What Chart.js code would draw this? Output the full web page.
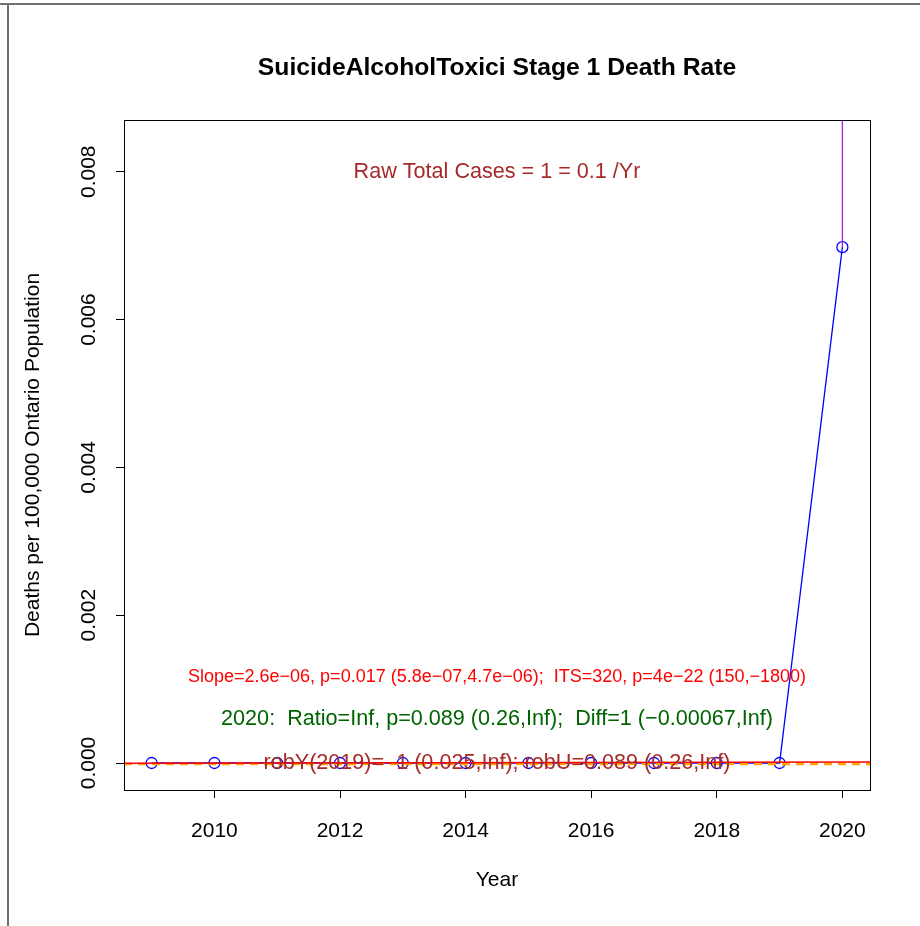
<!DOCTYPE html>
<html>
<head>
<meta charset="utf-8">
<script src="https://cdn.jsdelivr.net/npm/chart.js@4.4.0/dist/chart.umd.min.js"></script>
<style>
  html, body { margin: 0; padding: 0; background: #fff; }
</style>
</head>
<body>
<canvas id="grafico" width="920" height="926"></canvas>
<script>
// Datos
const anios = [2009, 2010, 2011, 2012, 2013, 2014, 2015, 2016, 2017, 2018, 2019, 2020];
const tasa = [0, 0, 0, 0, 0, 0, 0, 0, 0, 0, 0, 0.00698];

// Marcas de los ejes
const ticksX = [2010, 2012, 2014, 2016, 2018, 2020];
const ticksY = [0, 0.002, 0.004, 0.006, 0.008];
const limitesX = [2008.56, 2020.44];
const limitesY = [-0.000365, 0.0087];

// Recta de tendencia (roja), línea base (naranja) e intervalo 2020 (morado)
const tendenciaX = [2008.56, 2020.44];
const tendenciaY = [-0.000002, 0.000015];
const baseX = [2008.56, 2020.44];
const baseY = [-0.000012, -0.000012];
const intervaloX = [2020, 2020];
const intervaloY = [0.00698, 0.0095];

// Textos
const titulo = 'SuicideAlcoholToxici Stage 1 Death Rate';
const tituloX = 'Year';
const tituloY = 'Deaths per 100,000 Ontario Population';
const textoCasos = 'Raw Total Cases = 1 = 0.1 /Yr';
const textoPendiente = 'Slope=2.6e\u221206, p=0.017 (5.8e\u221207,4.7e\u221206);  ITS=320, p=4e\u221222 (150,\u22121800)';
const texto2020 = '2020:  Ratio=Inf, p=0.089 (0.26,Inf);  Diff=1 (\u22120.00067,Inf)';
const textoRob = 'robY(2019)=  1 (0.025,Inf); robU=0.089 (0.26,Inf)';
// Altura (en unidades del eje y) de cada anotación
const alturasTexto = [0.008, 0.001164, 0.000596, 0];

const fuente = '"Liberation Sans", Arial, Helvetica, sans-serif';

function pares(xs, ys) {
    return xs.map((x, i) => ({ x: x, y: ys[i] }));
}

// Plugin para marco, títulos y anotaciones
const decoraciones = {
    id: 'decoraciones',
    afterDraw(chart) {
        const ctx = chart.ctx;
        const area = chart.chartArea;
        const sx = chart.scales.x;
        const sy = chart.scales.y;
        const centroX = (area.left + area.right) / 2;
        ctx.save();

        // Marco exterior gris
        ctx.strokeStyle = '#707070';
        ctx.lineWidth = 2;
        ctx.beginPath();
        ctx.moveTo(0, 4);
        ctx.lineTo(920, 4);
        ctx.moveTo(8, 4);
        ctx.lineTo(8, 926);
        ctx.stroke();

        // Caja del área de trazado
        ctx.strokeStyle = '#000';
        ctx.lineWidth = 1;
        ctx.strokeRect(area.left + 0.5, area.top + 0.5, area.right - area.left, area.bottom - area.top);

        ctx.textAlign = 'center';
        ctx.textBaseline = 'middle';

        // Título
        ctx.fillStyle = '#000';
        ctx.font = 'bold 24.7px ' + fuente;
        ctx.fillText(titulo, centroX, 68);

        // Títulos de ejes
        ctx.font = '21px ' + fuente;
        ctx.fillText(tituloX, centroX, 880);
        ctx.save();
        ctx.translate(33, (area.top + area.bottom) / 2);
        ctx.rotate(-Math.PI / 2);
        ctx.fillText(tituloY, 0, 0);
        ctx.restore();

        // Anotaciones
        const xm = sx.getPixelForValue((limitesX[0] + limitesX[1]) / 2);
        ctx.fillStyle = '#A52A2A';
        ctx.font = '21.6px ' + fuente;
        ctx.fillText(textoCasos, xm, sy.getPixelForValue(alturasTexto[0]));

        ctx.fillStyle = '#FF0000';
        ctx.font = '18px ' + fuente;
        ctx.fillText(textoPendiente, xm, sy.getPixelForValue(alturasTexto[1]));

        ctx.fillStyle = '#006400';
        ctx.font = '21.6px ' + fuente;
        ctx.fillText(texto2020, xm, sy.getPixelForValue(alturasTexto[2]));

        ctx.fillStyle = '#A52A2A';
        ctx.font = '21.6px ' + fuente;
        ctx.fillText(textoRob, xm, sy.getPixelForValue(alturasTexto[3]));

        ctx.restore();
    }
};

const ctxGrafico = document.getElementById('grafico').getContext('2d');
const grafico = new Chart(ctxGrafico, {
    type: 'line',
    data: {
        datasets: [
            {
                label: 'Base',
                data: pares(baseX, baseY),
                borderColor: '#FFA500',
                borderWidth: 2.5,
                borderDash: [8, 6],
                pointRadius: 0,
                order: 3
            },
            {
                label: 'Tasa',
                data: pares(anios, tasa),
                borderColor: '#0000FF',
                borderWidth: 1.3,
                pointRadius: 5.5,
                pointBorderWidth: 1.3,
                pointBackgroundColor: 'rgba(0,0,0,0)',
                pointBorderColor: '#0000FF',
                order: 4
            },
            {
                label: 'Tendencia',
                data: pares(tendenciaX, tendenciaY),
                borderColor: '#FF0000',
                borderWidth: 1.5,
                pointRadius: 0,
                order: 2
            },
            {
                label: 'Intervalo',
                data: pares(intervaloX, intervaloY),
                borderColor: '#A020F0',
                borderWidth: 1.3,
                pointRadius: 0,
                order: 1
            }
        ]
    },
    options: {
        responsive: false,
        animation: false,
        layout: { padding: { top: 120, right: 50, left: 0, bottom: 0 } },
        plugins: {
            legend: { display: false },
            tooltip: { enabled: false },
            title: { display: false }
        },
        scales: {
            x: {
                type: 'linear',
                min: limitesX[0],
                max: limitesX[1],
                afterBuildTicks: scale => { scale.ticks = ticksX.map(v => ({ value: v })); },
                afterFit: scale => { scale.height = 136; },
                grid: { display: true, drawOnChartArea: false, drawTicks: true, tickLength: 8, color: '#000' },
                border: { display: false },
                ticks: {
                    color: '#000',
                    font: { family: fuente, size: 21 },
                    padding: 21,
                    maxRotation: 0,
                    callback: v => String(v)
                }
            },
            y: {
                type: 'linear',
                min: limitesY[0],
                max: limitesY[1],
                afterBuildTicks: scale => { scale.ticks = ticksY.map(v => ({ value: v })); },
                afterFit: scale => { scale.width = 124; },
                grid: { display: true, drawOnChartArea: false, drawTicks: true, tickLength: 8, color: '#000' },
                border: { display: false },
                ticks: {
                    color: '#000',
                    font: { family: fuente, size: 21 },
                    padding: 1,
                    minRotation: 90,
                    maxRotation: 90,
                    crossAlign: 'center',
                    callback: v => v.toFixed(3)
                }
            }
        }
    },
    plugins: [decoraciones]
});
</script>
</body>
</html>
